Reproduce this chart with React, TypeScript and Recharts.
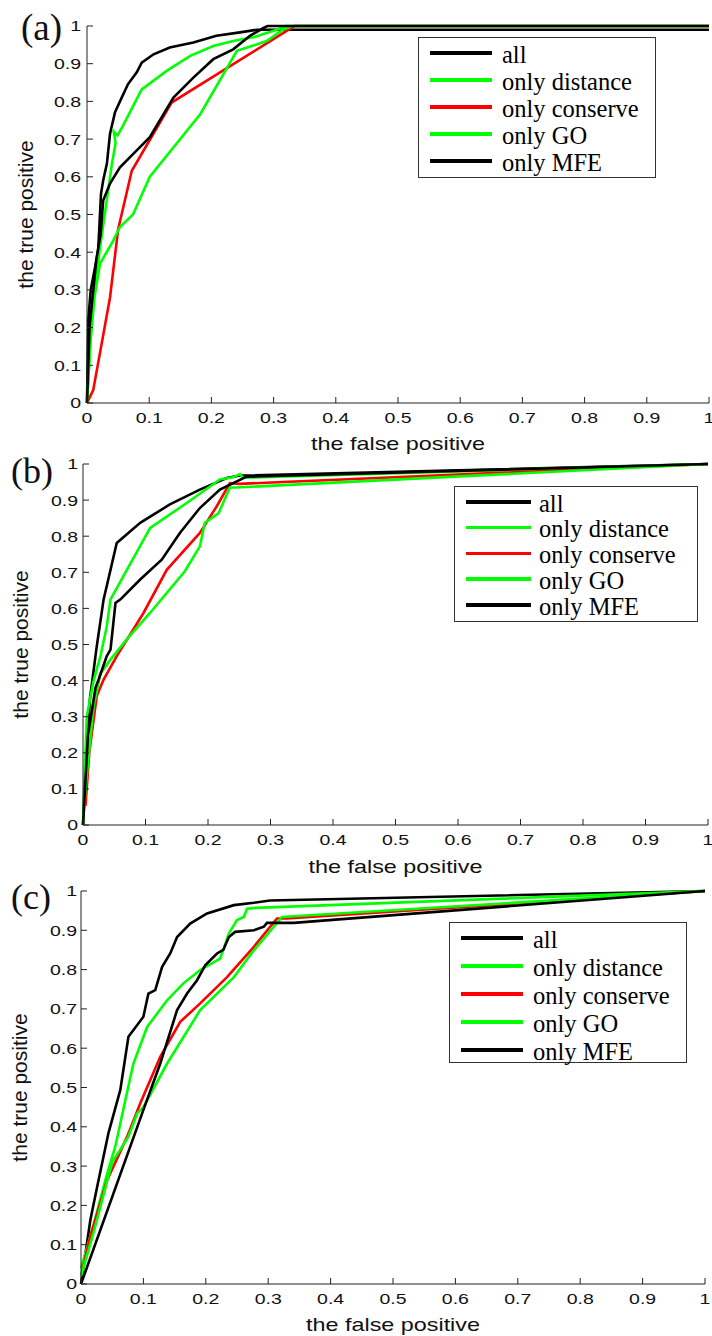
import React from "react";
import { LineChart, Line, XAxis, YAxis, Legend, Label } from "recharts";

const seriesNames = ["all", "only distance", "only conserve", "only GO", "only MFE"];
const seriesColors = ["#000000", "#00ff00", "#ff0000", "#00ff00", "#000000"];
const ticks = [0, 0.1, 0.2, 0.3, 0.4, 0.5, 0.6, 0.7, 0.8, 0.9, 1];
const xTitle = "the false positive";
const yTitle = "the true positive";

// panel (a): [false positive, true positive]
const aAll = [[0, 0], [0.002, 0.22], [0.006, 0.3], [0.013, 0.36], [0.018, 0.405], [0.0225, 0.555], [0.026, 0.59], [0.032, 0.635], [0.037, 0.714], [0.045, 0.771], [0.053, 0.8], [0.066, 0.846], [0.08, 0.877], [0.088, 0.903], [0.107, 0.925], [0.133, 0.943], [0.171, 0.956], [0.208, 0.974], [0.246, 0.983], [0.273, 0.99], [0.285, 0.99], [1, 0.99]];
const aDist = [[0, 0], [0.008, 0.24], [0.02, 0.4], [0.032, 0.54], [0.04, 0.634], [0.046, 0.69], [0.043, 0.72], [0.049, 0.71], [0.056, 0.73], [0.088, 0.832], [0.128, 0.881], [0.166, 0.921], [0.203, 0.947], [0.235, 0.96], [0.267, 0.97], [0.305, 0.99], [0.32, 1], [1, 1]];
const aCons = [[0, 0], [0.01, 0.034], [0.037, 0.28], [0.05, 0.46], [0.072, 0.616], [0.136, 0.797], [0.321, 0.987], [0.334, 1], [1, 1]];
const aGO = [[0, 0], [0.005, 0.15], [0.012, 0.28], [0.021, 0.37], [0.042, 0.43], [0.053, 0.467], [0.074, 0.5], [0.101, 0.6], [0.182, 0.766], [0.241, 0.934], [0.289, 0.96], [0.315, 0.99], [0.33, 1], [1, 1]];
const aMFE = [[0, 0], [0.004, 0.2], [0.015, 0.38], [0.022, 0.45], [0.026, 0.537], [0.037, 0.582], [0.053, 0.625], [0.074, 0.66], [0.101, 0.705], [0.139, 0.81], [0.171, 0.863], [0.203, 0.912], [0.235, 0.938], [0.262, 0.974], [0.283, 0.994], [0.29, 1], [1, 1]];

// panel (b)
const bAll = [[0, 0], [0.004, 0.15], [0.011, 0.348], [0.022, 0.495], [0.033, 0.625], [0.054, 0.781], [0.0915, 0.837], [0.139, 0.888], [0.187, 0.929], [0.23, 0.961], [0.251, 0.968], [0.26, 0.968], [1, 1]];
const bDist = [[0, 0], [0.003, 0.15], [0.006, 0.3], [0.017, 0.4], [0.028, 0.468], [0.038, 0.55], [0.044, 0.625], [0.1075, 0.823], [0.166, 0.892], [0.219, 0.957], [0.24, 0.963], [0.251, 0.972], [0.256, 0.962], [1, 1]];
const bCons = [[0.004, 0.053], [0.01, 0.2], [0.022, 0.357], [0.033, 0.403], [0.054, 0.468], [0.097, 0.588], [0.134, 0.707], [0.187, 0.809], [0.214, 0.883], [0.235, 0.947], [0.25, 0.945], [1, 1]];
const bGO = [[0, 0], [0.004, 0.1], [0.009, 0.19], [0.017, 0.33], [0.028, 0.42], [0.044, 0.458], [0.07, 0.514], [0.1075, 0.588], [0.163, 0.703], [0.187, 0.772], [0.195, 0.837], [0.217, 0.864], [0.235, 0.935], [0.245, 0.935], [1, 1]];
const bMFE = [[0, 0], [0.008, 0.25], [0.02, 0.38], [0.025, 0.403], [0.038, 0.468], [0.044, 0.486], [0.052, 0.615], [0.06, 0.625], [0.0915, 0.68], [0.126, 0.735], [0.155, 0.809], [0.187, 0.878], [0.219, 0.929], [0.246, 0.952], [0.262, 0.965], [1, 1]];

// panel (c)
const cAll = [[0, 0], [0.015, 0.163], [0.026, 0.248], [0.044, 0.384], [0.063, 0.494], [0.076, 0.629], [0.1, 0.68], [0.108, 0.739], [0.119, 0.748], [0.13, 0.807], [0.143, 0.841], [0.154, 0.883], [0.175, 0.917], [0.202, 0.943], [0.245, 0.964], [0.277, 0.97], [0.303, 0.976], [1, 1]];
const cDist = [[0, 0.04], [0.02, 0.15], [0.04, 0.27], [0.055, 0.35], [0.07, 0.46], [0.084, 0.561], [0.106, 0.654], [0.138, 0.722], [0.164, 0.765], [0.191, 0.799], [0.223, 0.828], [0.237, 0.892], [0.25, 0.926], [0.261, 0.934], [0.266, 0.955], [0.28, 0.957], [1, 1]];
const cCons = [[0, 0.02], [0.015, 0.121], [0.042, 0.265], [0.074, 0.375], [0.095, 0.46], [0.127, 0.578], [0.159, 0.667], [0.191, 0.714], [0.234, 0.781], [0.277, 0.858], [0.314, 0.93], [0.33, 0.93], [1, 1]];
const cGO = [[0, 0.02], [0.02, 0.13], [0.04, 0.25], [0.05, 0.31], [0.076, 0.375], [0.09, 0.434], [0.1, 0.45], [0.138, 0.561], [0.191, 0.697], [0.245, 0.781], [0.277, 0.849], [0.309, 0.909], [0.322, 0.934], [1, 1]];
const cMFE = [[0, 0], [0.1, 0.443], [0.127, 0.561], [0.154, 0.697], [0.17, 0.739], [0.186, 0.773], [0.199, 0.811], [0.218, 0.841], [0.228, 0.85], [0.237, 0.883], [0.247, 0.896], [0.277, 0.9], [0.293, 0.909], [0.298, 0.919], [0.341, 0.919], [1, 1]];

const toPts = (arr: number[][]) => arr.map(([x, y]) => ({ x, y }));

const panels = [
  {
    id: "(a)", series: [aAll, aDist, aCons, aGO, aMFE],
    top: 0, height: 456, plotLeft: 87, plotRight: 709, plotTop: 26, plotBottom: 403,
    xTitleY: 450, yTitleX: 33, tagX: 21, tagY: 40, tagSize: 37, tickGap: 6,
    legend: { left: 418, top: 37, w: 238, h: 141, rowH: 27, padTop: 1.5, padLeft: 11, lineW: 62, gap: 10 },
  },
  {
    id: "(b)", series: [bAll, bDist, bCons, bGO, bMFE],
    top: 456, height: 424, plotLeft: 83, plotRight: 708, plotTop: 8, plotBottom: 369,
    xTitleY: 417, yTitleX: 28, tagX: 11, tagY: 27, tagSize: 36, tickGap: 5,
    legend: { left: 454, top: 30, w: 244, h: 136, rowH: 25.75, padTop: 2, padLeft: 11, lineW: 65, gap: 8 },
  },
  {
    id: "(c)", series: [cAll, cDist, cCons, cGO, cMFE],
    top: 880, height: 456, plotLeft: 81, plotRight: 705, plotTop: 11, plotBottom: 404,
    xTitleY: 450.5, yTitleX: 27, tagX: 11, tagY: 29, tagSize: 36, tickGap: 4,
    legend: { left: 449, top: 42, w: 238, h: 141, rowH: 28, padTop: 1, padLeft: 11, lineW: 62, gap: 10 },
  },
];

const axisColor = "#222";
const sans = "'Liberation Sans', Arial, Helvetica, sans-serif";
const serif = "'Liberation Serif', 'Times New Roman', serif";

const fmt = (v: number) => String(v);

function LegendBox({ lg }: any) {
  return (
    <div style={{ boxSizing: "border-box", width: lg.w, height: lg.h, border: "1px solid #333", background: "#fff", paddingTop: lg.padTop, paddingLeft: lg.padLeft }}>
      {seriesNames.map((n, i) => (
        <div key={n} style={{ display: "flex", alignItems: "center", height: lg.rowH }}>
          <span style={{ display: "inline-block", width: lg.lineW, height: 3.5, background: seriesColors[i], marginRight: lg.gap }} />
          <span style={{ fontFamily: serif, fontSize: 24.5, lineHeight: 1, color: "#000", position: "relative", top: 2 }}>{n}</span>
        </div>
      ))}
    </div>
  );
}

function Panel({ p }: any) {
  const width = 712;
  const cx = (p.plotLeft + p.plotRight) / 2;
  const cy = (p.plotTop + p.plotBottom) / 2;

  const bottomTick = ({ x, y, payload }: any) => (
    <g>
      <line x1={x} x2={x} y1={y} y2={y - 6} stroke={axisColor} />
      <text transform={`translate(${x},${y + 20}) scale(1.3,1)`} textAnchor="middle" fontFamily={sans} fontSize={15} fill="#111">{fmt(payload.value)}</text>
    </g>
  );
  const leftTick = ({ x, y, payload }: any) => (
    <g>
      <line x1={x} x2={x + 6} y1={y} y2={y} stroke={axisColor} />
      <text transform={`translate(${x - p.tickGap},${y + 5.4}) scale(1.3,1)`} textAnchor="end" fontFamily={sans} fontSize={15} fill="#111">{fmt(payload.value)}</text>
    </g>
  );
  const topTick = ({ x, y }: any) => <line x1={x} x2={x} y1={y} y2={y + 6} stroke={axisColor} />;
  const rightTick = ({ x, y }: any) => <line x1={x} x2={x - 6} y1={y} y2={y} stroke={axisColor} />;

  return (
    <div style={{ position: "absolute", left: 0, top: p.top, width, height: p.height }}>
      <LineChart width={width} height={p.height} margin={{ top: p.plotTop, right: width - p.plotRight, bottom: 0, left: 0 }}>
        <XAxis type="number" dataKey="x" domain={[0, 1]} ticks={ticks} interval={0} height={p.height - p.plotBottom}
          tickSize={0} tickMargin={0} tickLine={false} axisLine={{ stroke: axisColor }} tick={bottomTick}>
          <Label content={() => (
            <text transform={`translate(${cx},${p.xTitleY}) scale(1.23,1)`} textAnchor="middle" fontFamily={sans} fontSize={19} fill="#111">{xTitle}</text>
          )} />
        </XAxis>
        <XAxis xAxisId="t" orientation="top" type="number" dataKey="x" domain={[0, 1]} ticks={ticks} interval={0} height={0}
          tickSize={0} tickMargin={0} tickLine={false} axisLine={{ stroke: axisColor }} tick={topTick} />
        <YAxis type="number" domain={[0, 1]} ticks={ticks} interval={0} width={p.plotLeft}
          tickSize={0} tickMargin={0} tickLine={false} axisLine={{ stroke: axisColor }} tick={leftTick}>
          <Label content={() => (
            <g>
              <text transform={`translate(${p.yTitleX},${cy}) rotate(-90)`} textAnchor="middle" fontFamily={sans} fontSize={21} fill="#111">{yTitle}</text>
              <text x={p.tagX} y={p.tagY} fontFamily={serif} fontSize={p.tagSize} fill="#111">{p.id}</text>
            </g>
          )} />
        </YAxis>
        <YAxis yAxisId="r" orientation="right" type="number" domain={[0, 1]} ticks={ticks} interval={0} width={0}
          tickSize={0} tickMargin={0} tickLine={false} axisLine={{ stroke: axisColor }} tick={rightTick} />
        {p.series.map((s: number[][], i: number) => (
          <Line key={i} data={toPts(s)} dataKey="y" name={seriesNames[i]} type="linear" stroke={seriesColors[i]}
            strokeWidth={2.6} dot={false} activeDot={false} isAnimationActive={false} />
        ))}
        <Legend layout="vertical" align="center" verticalAlign="middle"
          wrapperStyle={{ left: p.legend.left, top: p.legend.top, width: p.legend.w, height: p.legend.h }}
          content={() => <LegendBox lg={p.legend} />} />
      </LineChart>
    </div>
  );
}

export default function App() {
  return (
    <div style={{ position: "absolute", left: 0, top: 0, width: 712, height: 1336, background: "#fff" }}>
      <style>{`.recharts-surface { overflow: visible; }`}</style>
      {panels.map((p) => <Panel key={p.id} p={p} />)}
    </div>
  );
}
